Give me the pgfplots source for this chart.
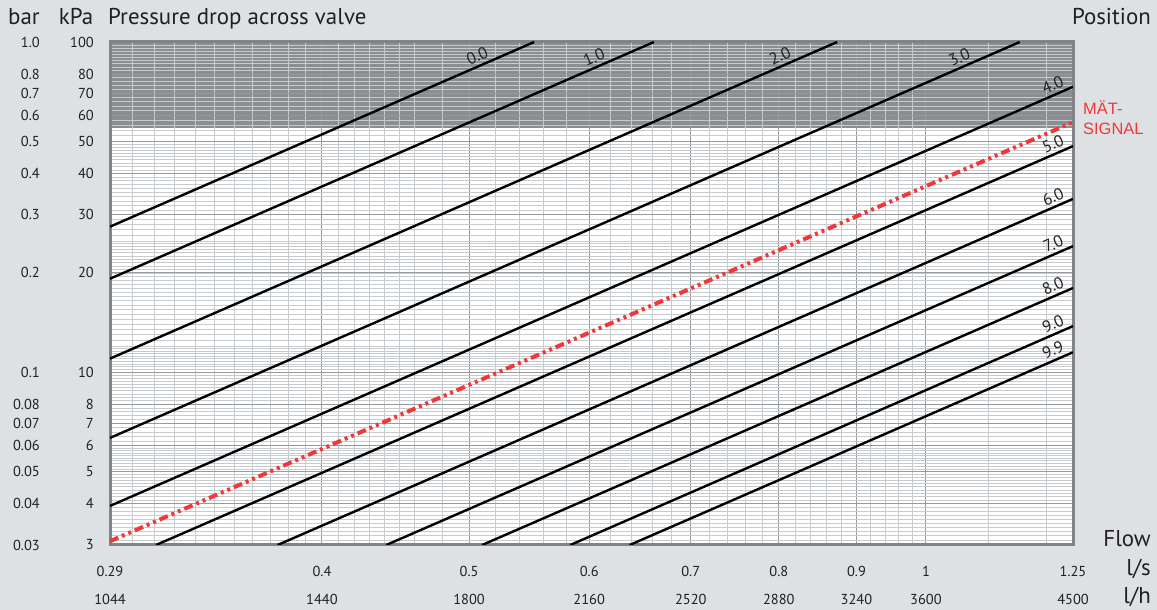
\documentclass[border=0pt]{standalone}
\usepackage{fontspec}
\setmainfont{PT Sans}
\newfontfamily\arialfont{Liberation Sans}
\usepackage{pgfplots}
\pgfplotsset{compat=1.18}
\definecolor{bgc}{RGB}{221,225,227}
\definecolor{shade}{RGB}{138,142,145}
\definecolor{minorg}{RGB}{200,203,205}
\definecolor{majorg}{RGB}{150,154,157}
\definecolor{frameg}{RGB}{128,132,135}
\definecolor{sigred}{RGB}{240,55,58}
\definecolor{txt}{RGB}{35,31,32}
\pagecolor{bgc}
\begin{document}
\begin{tikzpicture}
\path (0,0) rectangle (1157bp,610bp);
\begin{axis}[
  set layers,
  at={(110bp,65bp)}, anchor=south west,
  scale only axis, width=963bp, height=503bp,
  xmode=log, ymode=log,
  xmin=0.29, xmax=1.25, ymin=3, ymax=100,
  axis background/.style={fill=white},
  axis line style={frameg, line width=3bp},
  major tick length=0pt, minor tick length=0pt,
  grid=both,
  minor grid style={minorg, line width=0.7bp},
  major grid style={majorg, line width=1bp},
  xtick={0.29,0.4,0.5,0.6,0.7,0.8,0.9,1,1.25},
  xticklabels={0.29,0.4,0.5,0.6,0.7,0.8,0.9,1,1.25},
  minor xtick={0.30,0.31,...,0.455,0.46,0.48,...,0.99,1.1,1.2},
  extra x ticks={0.29,0.4,0.5,0.6,0.7,0.8,0.9,1,1.25},
  extra x tick labels={1044,1440,1800,2160,2520,2880,3240,3600,4500},
  extra x tick style={grid=none, xticklabel style={yshift=-28bp}},
  xticklabel style={font=\fontsize{14.5}{16}\selectfont, text=txt, anchor=base, yshift=-31bp},
  ytick={3,4,5,6,7,8,10,20,30,40,50,60,70,80,100},
  yticklabels={3,4,5,6,7,8,10,20,30,40,50,60,70,80,100},
  minor ytick={3.1,3.2,...,6.05,6.2,6.4,...,12.1,12.5,13,...,25.1,26,27,...,50.5,52,54,...,99},
  extra y ticks={3,4,5,6,7,8,10,20,30,40,50,60,70,80,100},
  extra y tick labels={0.03,0.04,0.05,0.06,0.07,0.08,0.1,0.2,0.3,0.4,0.5,0.6,0.7,0.8,1.0},
  extra y tick style={grid=none, yticklabel style={xshift=-54bp}},
  yticklabel style={font=\fontsize{14.5}{16}\selectfont, text=txt, anchor=east, inner sep=0pt, xshift=-16bp},
]
% shaded zone
\addplot[draw=none, fill=shade, on layer=axis background] coordinates {(0.29,55) (1.25,55) (1.25,100) (0.29,100) (0.29,55)};
\tikzset{lbl/.style={sloped, anchor=south, inner sep=0pt, yshift=3bp, text=txt, font=\fontsize{16.5}{18}\selectfont}}
\addplot[black, line width=2.4bp] coordinates {(0.29,27.6) (0.552,100)} node[lbl, pos=0.875] {0.0};
\addplot[black, line width=2.4bp] coordinates {(0.29,19.2) (0.662,100)} node[lbl, pos=0.897] {1.0};
\addplot[black, line width=2.4bp] coordinates {(0.29,11.0) (0.874,100)} node[lbl, pos=0.927] {2.0};
\addplot[black, line width=2.4bp] coordinates {(0.29,6.33) (1.153,100)} node[lbl, pos=0.938] {3.0};
\addplot[black, line width=2.4bp] coordinates {(0.29,3.94) (1.25,73.2)} node[lbl, pos=0.983] {4.0};
\addplot[black, line width=2.4bp] coordinates {(0.311,3) (1.25,48.4)} node[lbl, pos=0.9825] {5.0};
\addplot[black, line width=2.4bp] coordinates {(0.374,3) (1.25,33.5)} node[lbl, pos=0.98] {6.0};
\addplot[black, line width=2.4bp] coordinates {(0.441,3) (1.25,24.1)} node[lbl, pos=0.977] {7.0};
\addplot[black, line width=2.4bp] coordinates {(0.510,3) (1.25,18.0)} node[lbl, pos=0.973] {8.0};
\addplot[black, line width=2.4bp] coordinates {(0.583,3) (1.25,13.8)} node[lbl, pos=0.968] {9.0};
\addplot[black, line width=2.4bp] coordinates {(0.638,3) (1.25,11.5)} node[lbl, pos=0.964] {9.9};
\addplot[sigred, line width=4bp, dash pattern=on 9bp off 4bp on 3bp off 4bp on 3bp off 4bp] coordinates {(0.29,3.08) (1.25,57.2)};
\end{axis}
\begin{scope}[every node/.style={text=txt, inner sep=0pt, font=\fontsize{23}{26}\selectfont}]
\node[anchor=base] at (24bp,585bp) {bar};
\node[anchor=base] at (76bp,585bp) {kPa};
\node[anchor=base west] at (108bp,585bp) {Pressure drop across valve};
\node[anchor=base east] at (1151bp,585bp) {Position};
\node[anchor=base east] at (1151bp,63bp) {Flow};
\node[anchor=base east] at (1151bp,35bp) {l/s};
\node[anchor=base east] at (1151bp,7bp) {l/h};
\end{scope}
\node[anchor=base west, inner sep=0pt, text=sigred, font=\arialfont\fontsize{16.5}{18}\selectfont] at (1083bp,495bp) {MÄT-};
\node[anchor=base west, inner sep=0pt, text=sigred, font=\arialfont\fontsize{16.5}{18}\selectfont] at (1083bp,475bp) {SIGNAL};
\end{tikzpicture}
\end{document}
